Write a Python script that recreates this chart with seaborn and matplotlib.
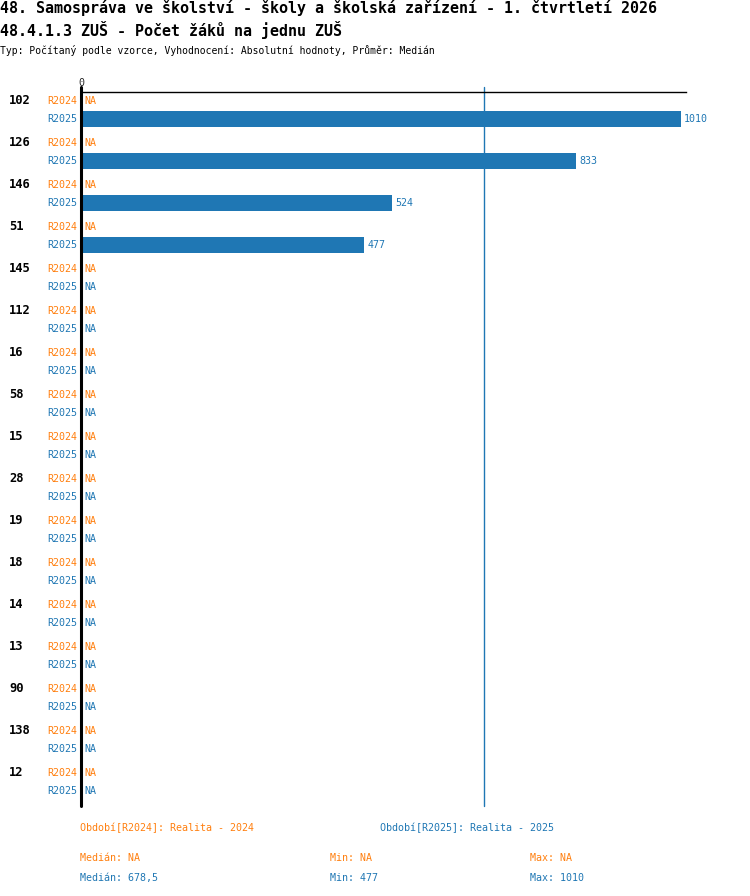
import numpy as np
import pandas as pd
import seaborn as sns
import matplotlib
matplotlib.use("Agg")
import matplotlib.pyplot as plt
from matplotlib.transforms import blended_transform_factory

# ---- data ----
groups = ["102", "126", "146", "51", "145", "112", "16", "58", "15", "28",
          "19", "18", "14", "13", "90", "138", "12"]
periods = ["R2024", "R2025"]
values_r2024 = [np.nan] * 17
values_r2025 = [1010, 833, 524, 477] + [np.nan] * 13
median_r2025 = 678.5
min_r2025 = 477
max_r2025 = 1010

title1 = "48. Samospráva ve školství - školy a školská zařízení - 1. čtvrtletí 2026"
title2 = "48.4.1.3 ZUŠ - Počet žáků na jednu ZUŠ"
subtitle = "Typ: Počítaný podle vzorce, Vyhodnocení: Absolutní hodnoty, Průměr: Medián"

ORANGE = "#ff7f0e"
BLUE = "#1f77b4"
colors = {"R2024": ORANGE, "R2025": BLUE}

df = pd.DataFrame({
    "group": groups * 2,
    "period": ["R2024"] * 17 + ["R2025"] * 17,
    "value": values_r2024 + values_r2025,
})

sns.set_style("white")
plt.rcParams["font.family"] = ["DejaVu Sans Mono", "DejaVu Sans"]

W, H = 750, 896
fig = plt.figure(figsize=(W / 100, H / 100), dpi=100)
ax = fig.add_axes([81 / W, 1 - 806 / H, 605 / W, 714 / H])

width = 6 / 7
sns.barplot(data=df, y="group", x="value", hue="period", order=groups,
            hue_order=periods, palette=colors, orient="h", dodge=True,
            width=width, gap=0.08, errorbar=None, legend=False, ax=ax,
            saturation=1, linewidth=0, edgecolor="none")

ax.set_xlim(0, 1018)
ax.set_ylim(len(groups) - 1 + 24 / 42, -18 / 42)
ax.set_xlabel("")
ax.set_ylabel("")
ax.set_yticks([])
ax.xaxis.tick_top()
ax.set_xticks([0])
ax.set_xticklabels(["0"], fontsize=7.2)
ax.tick_params(axis="x", length=0, pad=3)

for s in ["right", "bottom"]:
    ax.spines[s].set_visible(False)
ax.spines["top"].set_color("black")
ax.spines["top"].set_linewidth(1.0)
ax.spines["left"].set_visible(False)
# left axis line (extends slightly above the top line)
ax.axvline(0, ymin=0, ymax=1 + 5 / 714, color="black", lw=2.2, clip_on=False)
# median line
ax.axvline(median_r2025, ymin=0, ymax=1 + 5 / 714, color=BLUE, lw=1, clip_on=False)

off = width / 4
fig_y = blended_transform_factory(fig.transFigure, ax.transData)
for i, g in enumerate(groups):
    ax.text(9 / W, i - off, g, transform=fig_y, ha="left", va="center",
            fontsize=8.7, fontweight="bold", color="black")
    for p, sign, vals in (("R2024", -1, values_r2024), ("R2025", 1, values_r2025)):
        y = i + sign * off
        c = colors[p]
        ax.annotate(p, xy=(0, y), xycoords=("axes fraction", "data"),
                    xytext=(-4, 0), textcoords="offset pixels",
                    ha="right", va="center", fontsize=7.2, color=c)
        v = vals[i]
        if np.isnan(v):
            ax.annotate("NA", xy=(0, y), xycoords="data", xytext=(3, 0),
                        textcoords="offset pixels", ha="left", va="center",
                        fontsize=7.2, color=c)
        else:
            ax.annotate(f"{v:g}", xy=(v, y), xycoords="data", xytext=(3, 0),
                        textcoords="offset pixels", ha="left", va="center",
                        fontsize=7.2, color=c)

def ftxt(x, y, s, **kw):
    fig.text(x / W, 1 - y / H, s, va="center", **kw)

ftxt(0, 8.5, title1, fontsize=10.8, fontweight="bold", color="black")
ftxt(0, 30, title2, fontsize=10.8, fontweight="bold", color="black")
ftxt(0, 51, subtitle, fontsize=7.0, color="black")

ftxt(80, 828, "Období[R2024]: Realita - 2024", fontsize=7.2, color=ORANGE)
ftxt(380, 828, "Období[R2025]: Realita - 2025", fontsize=7.2, color=BLUE)
ftxt(80, 858, "Medián: NA", fontsize=7.2, color=ORANGE)
ftxt(330, 858, "Min: NA", fontsize=7.2, color=ORANGE)
ftxt(530, 858, "Max: NA", fontsize=7.2, color=ORANGE)
ftxt(80, 878, f"Medián: {median_r2025:g}".replace(".", ","), fontsize=7.2, color=BLUE)
ftxt(330, 878, f"Min: {min_r2025}", fontsize=7.2, color=BLUE)
ftxt(530, 878, f"Max: {max_r2025}", fontsize=7.2, color=BLUE)

fig.savefig("out.png", dpi=100)
